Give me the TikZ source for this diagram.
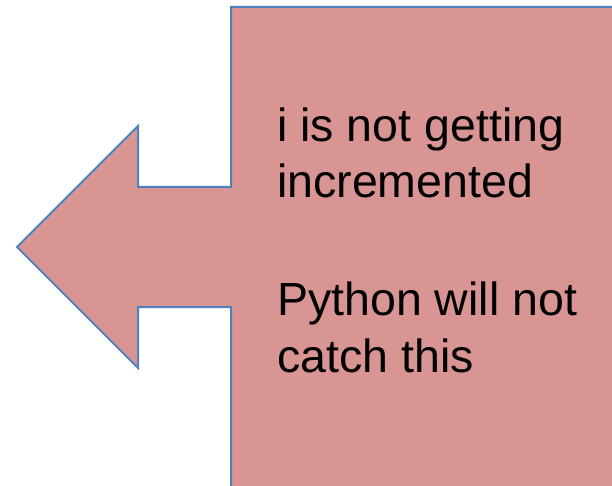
\documentclass[tikz,border=0pt]{standalone}
\usepackage{fontspec}
\setmainfont{Liberation Sans}
\definecolor{calloutfill}{HTML}{D99594}
\definecolor{calloutline}{HTML}{4F81BD}
\tikzset{
  callout/.style={fill=calloutfill, draw=calloutline, line width=2pt, line join=miter},
  txt/.style={anchor=base west, inner sep=0pt, font=\fontsize{46.5}{57}\selectfont, text=black}
}
\begin{document}
\begin{tikzpicture}[x=1pt,y=-1pt]
\useasboundingbox (0,0) rectangle (612,486);
\clip (0,0) rectangle (612,486);
\path[callout] (231,7) -- (630,7) -- (630,500) -- (231,500) -- (231,307) -- (138,307)
  -- (138,368) -- (17,247) -- (138,126) -- (138,187) -- (231,187) -- cycle;
\node[txt] (l1) at (277,142) {i is not getting};
\node[txt] (l2) at (277,198) {incremented};
\node[txt] (l3) at (277,315) {Python will not};
\node[txt] (l4) at (277,372) {catch this};
\end{tikzpicture}
\end{document}
